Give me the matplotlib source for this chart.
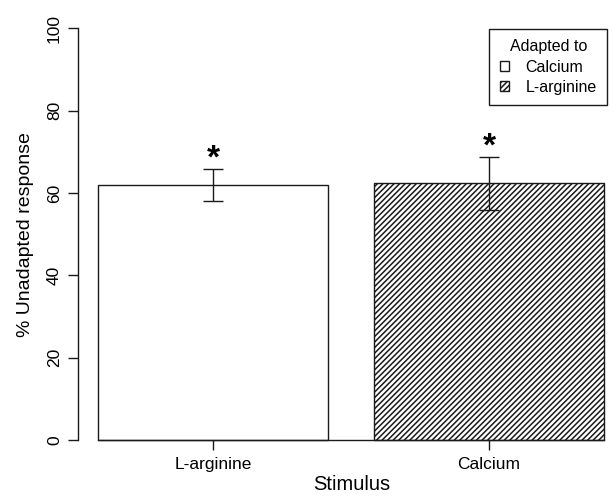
import matplotlib
matplotlib.use('Agg')
import matplotlib.pyplot as plt
import numpy as np

plt.rcParams.update({
    'font.family': ['Liberation Sans', 'DejaVu Sans'],
    'hatch.linewidth': 1.1,
    'hatch.color': '#1a1a1a',
})

# data
stimuli = ['L-arginine', 'Calcium']
adapted_to = ['Calcium', 'L-arginine']
means = [62.0, 62.4]
errs = [3.9, 6.4]
hatches = ['', '//////']

INK = '#1a1a1a'

fig = plt.figure(figsize=(6.12, 4.98), dpi=100)
ax = fig.add_axes([0.1275, 0.0833, 0.8725, 0.8928])

x = np.array([0.7, 1.9])
bars = ax.bar(x, means, width=1.0, color='white', edgecolor=INK, lw=1.0,
              zorder=2)
for b, h, lab in zip(bars, hatches, adapted_to):
    b.set_hatch(h)
    b.set_label(lab)

ax.errorbar(x, means, yerr=errs, fmt='none', ecolor=INK, elinewidth=1.0,
            capsize=7, capthick=1.0, zorder=3)

# significance stars
for xi, m, e in zip(x, means, errs):
    ax.text(xi, m + e + 0.2, '*', ha='center', va='baseline',
            fontsize=24, fontweight='bold', color='black', zorder=4)

ax.set_xlim(0.1134, 2.4346)
ax.set_ylim(-4, 104)

for s in ['top', 'right']:
    ax.spines[s].set_visible(False)
ax.spines['left'].set_bounds(0, 100)
ax.spines['bottom'].set_position(('data', 0))
ax.spines['bottom'].set_bounds(0.2, 2.4)
for s in ['left', 'bottom']:
    ax.spines[s].set_color(INK)
    ax.spines[s].set_linewidth(1.0)

ax.set_yticks(np.arange(0, 101, 20))
ax.set_xticks(x)
ax.set_xticklabels(stimuli)
ax.tick_params(axis='both', length=7, width=1.0, color=INK, labelsize=12.5,
               pad=5.5)
ax.tick_params(axis='y', labelrotation=90, pad=4.5)
for t in ax.get_yticklabels():
    t.set_va('center')

ax.set_xlabel('Stimulus', fontsize=14.5, va='center')
ax.xaxis.set_label_coords(0.513, -0.064)
ax.set_ylabel('% Unadapted response', fontsize=14, va='center')
ax.yaxis.set_label_coords(-0.099, 0.4993)

leg = ax.legend(handles=list(bars), labels=adapted_to, title='Adapted to',
                loc='upper right', bbox_to_anchor=(607 / 612, 1 - 29 / 498),
                bbox_transform=fig.transFigure, borderaxespad=0,
                fontsize=11.5, title_fontsize=11.5, handlelength=0.6,
                handleheight=0.6, handletextpad=1.0, labelspacing=0.33,
                borderpad=0.65, fancybox=False, framealpha=1,
                edgecolor=INK)
leg.get_frame().set_linewidth(1.0)

fig.savefig('out.png', dpi=100, facecolor='white')
